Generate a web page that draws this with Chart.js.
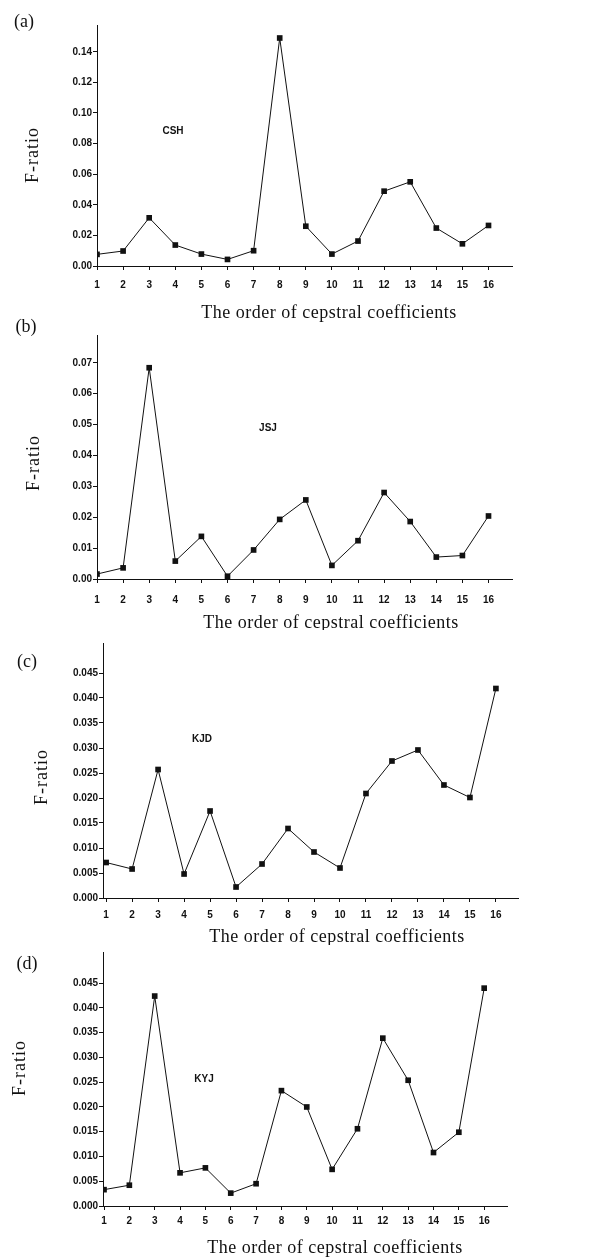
<!DOCTYPE html>
<html>
<head>
<meta charset="utf-8">
<script src="https://cdn.jsdelivr.net/npm/chart.js@4"></script>
<style>
  html, body { margin: 0; padding: 0; background: #fff; }
  #page { position: relative; width: 589px; height: 1258px; overflow: hidden; }
  canvas { position: absolute; left: 0; }
</style>
</head>
<body>
<div id="page">
  <canvas id="chart-a"></canvas>
  <canvas id="chart-b"></canvas>
  <canvas id="chart-c"></canvas>
  <canvas id="chart-d"></canvas>
</div>
<script>
// cepstral coefficient order (x axis)
const orders = [1, 2, 3, 4, 5, 6, 7, 8, 9, 10, 11, 12, 13, 14, 15, 16];

// F-ratio per speaker
const fRatioCSH = [0.0076, 0.0098, 0.0315, 0.0137, 0.0078, 0.0043, 0.0100, 0.1490,
                   0.0260, 0.0078, 0.0163, 0.0489, 0.0550, 0.0248, 0.0145, 0.0265];
const fRatioJSJ = [0.0016, 0.0036, 0.0684, 0.0058, 0.0138, 0.0009, 0.0094, 0.0193,
                   0.0256, 0.0044, 0.0124, 0.0280, 0.0186, 0.0071, 0.0076, 0.0204];
const fRatioKJD = [0.0071, 0.0058, 0.0257, 0.0048, 0.0174, 0.0022, 0.0068, 0.0139,
                   0.0092, 0.0060, 0.0209, 0.0274, 0.0296, 0.0226, 0.0201, 0.0419];
const fRatioKYJ = [0.0033, 0.0042, 0.0424, 0.0067, 0.0077, 0.0026, 0.0045, 0.0233,
                   0.0200, 0.0074, 0.0156, 0.0339, 0.0254, 0.0108, 0.0149, 0.0440];

const speakers = ["CSH", "JSJ", "KJD", "KYJ"];
const panelLetters = ["(a)", "(b)", "(c)", "(d)"];
const yTickValues = [
  [0, 0.02, 0.04, 0.06, 0.08, 0.10, 0.12, 0.14],
  [0, 0.01, 0.02, 0.03, 0.04, 0.05, 0.06, 0.07],
  [0, 0.005, 0.010, 0.015, 0.020, 0.025, 0.030, 0.035, 0.040, 0.045],
  [0, 0.005, 0.010, 0.015, 0.020, 0.025, 0.030, 0.035, 0.040, 0.045],
];
const yTickDecimals = [2, 2, 3, 3];
const xTitle = "The order of cepstral coefficients";
const yTitle = "F-ratio";

const ink = "#111";

// page layout for each panel (absolute page pixels)
const panels = [
  { id: "chart-a", series: fRatioCSH, top: 0, height: 330,
    area: { left: 97, top: 25, right: 512, bottom: 266 },
    xMin: 1, xMax: 16.9, yMax: 0.1575, xLabelGap: 9,
    letter: [24, 22], yt: [33, 155], name: [173, 131], xt: [329, 313] },
  { id: "chart-b", series: fRatioJSJ, top: 315, height: 315,
    area: { left: 97, top: 335, right: 512, bottom: 579 },
    xMin: 1, xMax: 16.9, yMax: 0.079, xLabelGap: 11,
    letter: [26, 327], yt: [34, 463], name: [268, 428], xt: [331, 623] },
  { id: "chart-c", series: fRatioKJD, top: 630, height: 315,
    area: { left: 103, top: 643, right: 518, bottom: 898 },
    xMin: 0.88, xMax: 16.85, yMax: 0.051, xLabelGap: 7,
    letter: [27, 662], yt: [42, 777], name: [202, 739], xt: [337, 937] },
  { id: "chart-d", series: fRatioKYJ, top: 940, height: 318,
    area: { left: 103, top: 952, right: 507, bottom: 1206 },
    xMin: 0.96, xMax: 16.9, yMax: 0.0513, xLabelGap: 5,
    letter: [27, 964], yt: [20, 1068], name: [204, 1079], xt: [335, 1248] },
];

const notesPlugin = {
  id: "notes",
  afterDraw(chart, args, opts) {
    const ctx = chart.ctx;
    for (const n of opts.items || []) {
      ctx.save();
      ctx.font = n.font;
      ctx.fillStyle = ink;
      ctx.textAlign = "center";
      ctx.textBaseline = "middle";
      if (n.spacing) ctx.letterSpacing = n.spacing;
      ctx.translate(n.x, n.y);
      if (n.rotate) ctx.rotate(n.rotate);
      ctx.fillText(n.text, 0, 0);
      ctx.restore();
    }
  },
};

panels.forEach((p, i) => {
  const canvas = document.getElementById(p.id);
  canvas.style.top = p.top + "px";
  canvas.width = 589;
  canvas.height = p.height;
  canvas.style.width = "589px";
  canvas.style.height = p.height + "px";

  const local = (xy) => ({ x: xy[0], y: xy[1] - p.top });

  new Chart(canvas, {
    type: "line",
    plugins: [notesPlugin],
    data: {
      datasets: [
        {
          label: speakers[i],
          data: orders.map((o, k) => ({ x: o, y: p.series[k] })),
          borderColor: ink,
          borderWidth: 1,
          backgroundColor: ink,
          pointStyle: "rect",
          pointRadius: 4,
          pointBorderWidth: 0,
          tension: 0,
        },
      ],
    },
    options: {
      responsive: false,
      animation: false,
      layout: {
        padding: {
          top: p.area.top - p.top,
          left: 0,
          right: 589 - p.area.right,
          bottom: 0,
        },
      },
      plugins: {
        legend: { display: false },
        tooltip: { enabled: false },
        notes: {
          items: [
            { text: panelLetters[i], font: "18px 'Liberation Serif'", ...local(p.letter) },
            { text: yTitle, font: "18px 'Liberation Serif'", spacing: "1px", rotate: -Math.PI / 2, ...local(p.yt) },
            { text: speakers[i], font: "bold 10px 'Liberation Sans'", ...local(p.name) },
            { text: xTitle, font: "18px 'Liberation Serif'", spacing: "0.5px", ...local(p.xt) },
          ],
        },
      },
      scales: {
        x: {
          type: "linear",
          min: p.xMin,
          max: p.xMax,
          afterBuildTicks: (s) => {
            s.ticks = orders.map((v) => ({ value: v }));
          },
          afterFit: (s) => { s.height = p.top + p.height - p.area.bottom; },
          border: { display: true, color: ink, width: 1 },
          grid: { display: true, drawOnChartArea: false, tickLength: 4, color: ink },
          ticks: {
            autoSkip: false,
            maxRotation: 0,
            color: ink,
            padding: p.xLabelGap,
            font: { family: "'Liberation Sans'", weight: "bold", size: 10 },
          },
        },
        y: {
          min: 0,
          max: p.yMax,
          afterBuildTicks: (s) => {
            s.ticks = yTickValues[i].map((v) => ({ value: v }));
          },
          afterFit: (s) => { s.width = p.area.left; },
          border: { display: true, color: ink, width: 1 },
          grid: { display: true, drawOnChartArea: false, tickLength: 4, color: ink },
          ticks: {
            autoSkip: false,
            color: ink,
            padding: 1,
            font: { family: "'Liberation Sans'", weight: "bold", size: 10 },
            callback: (v) => Number(v).toFixed(yTickDecimals[i]),
          },
        },
      },
    },
  });
});
</script>
</body>
</html>
